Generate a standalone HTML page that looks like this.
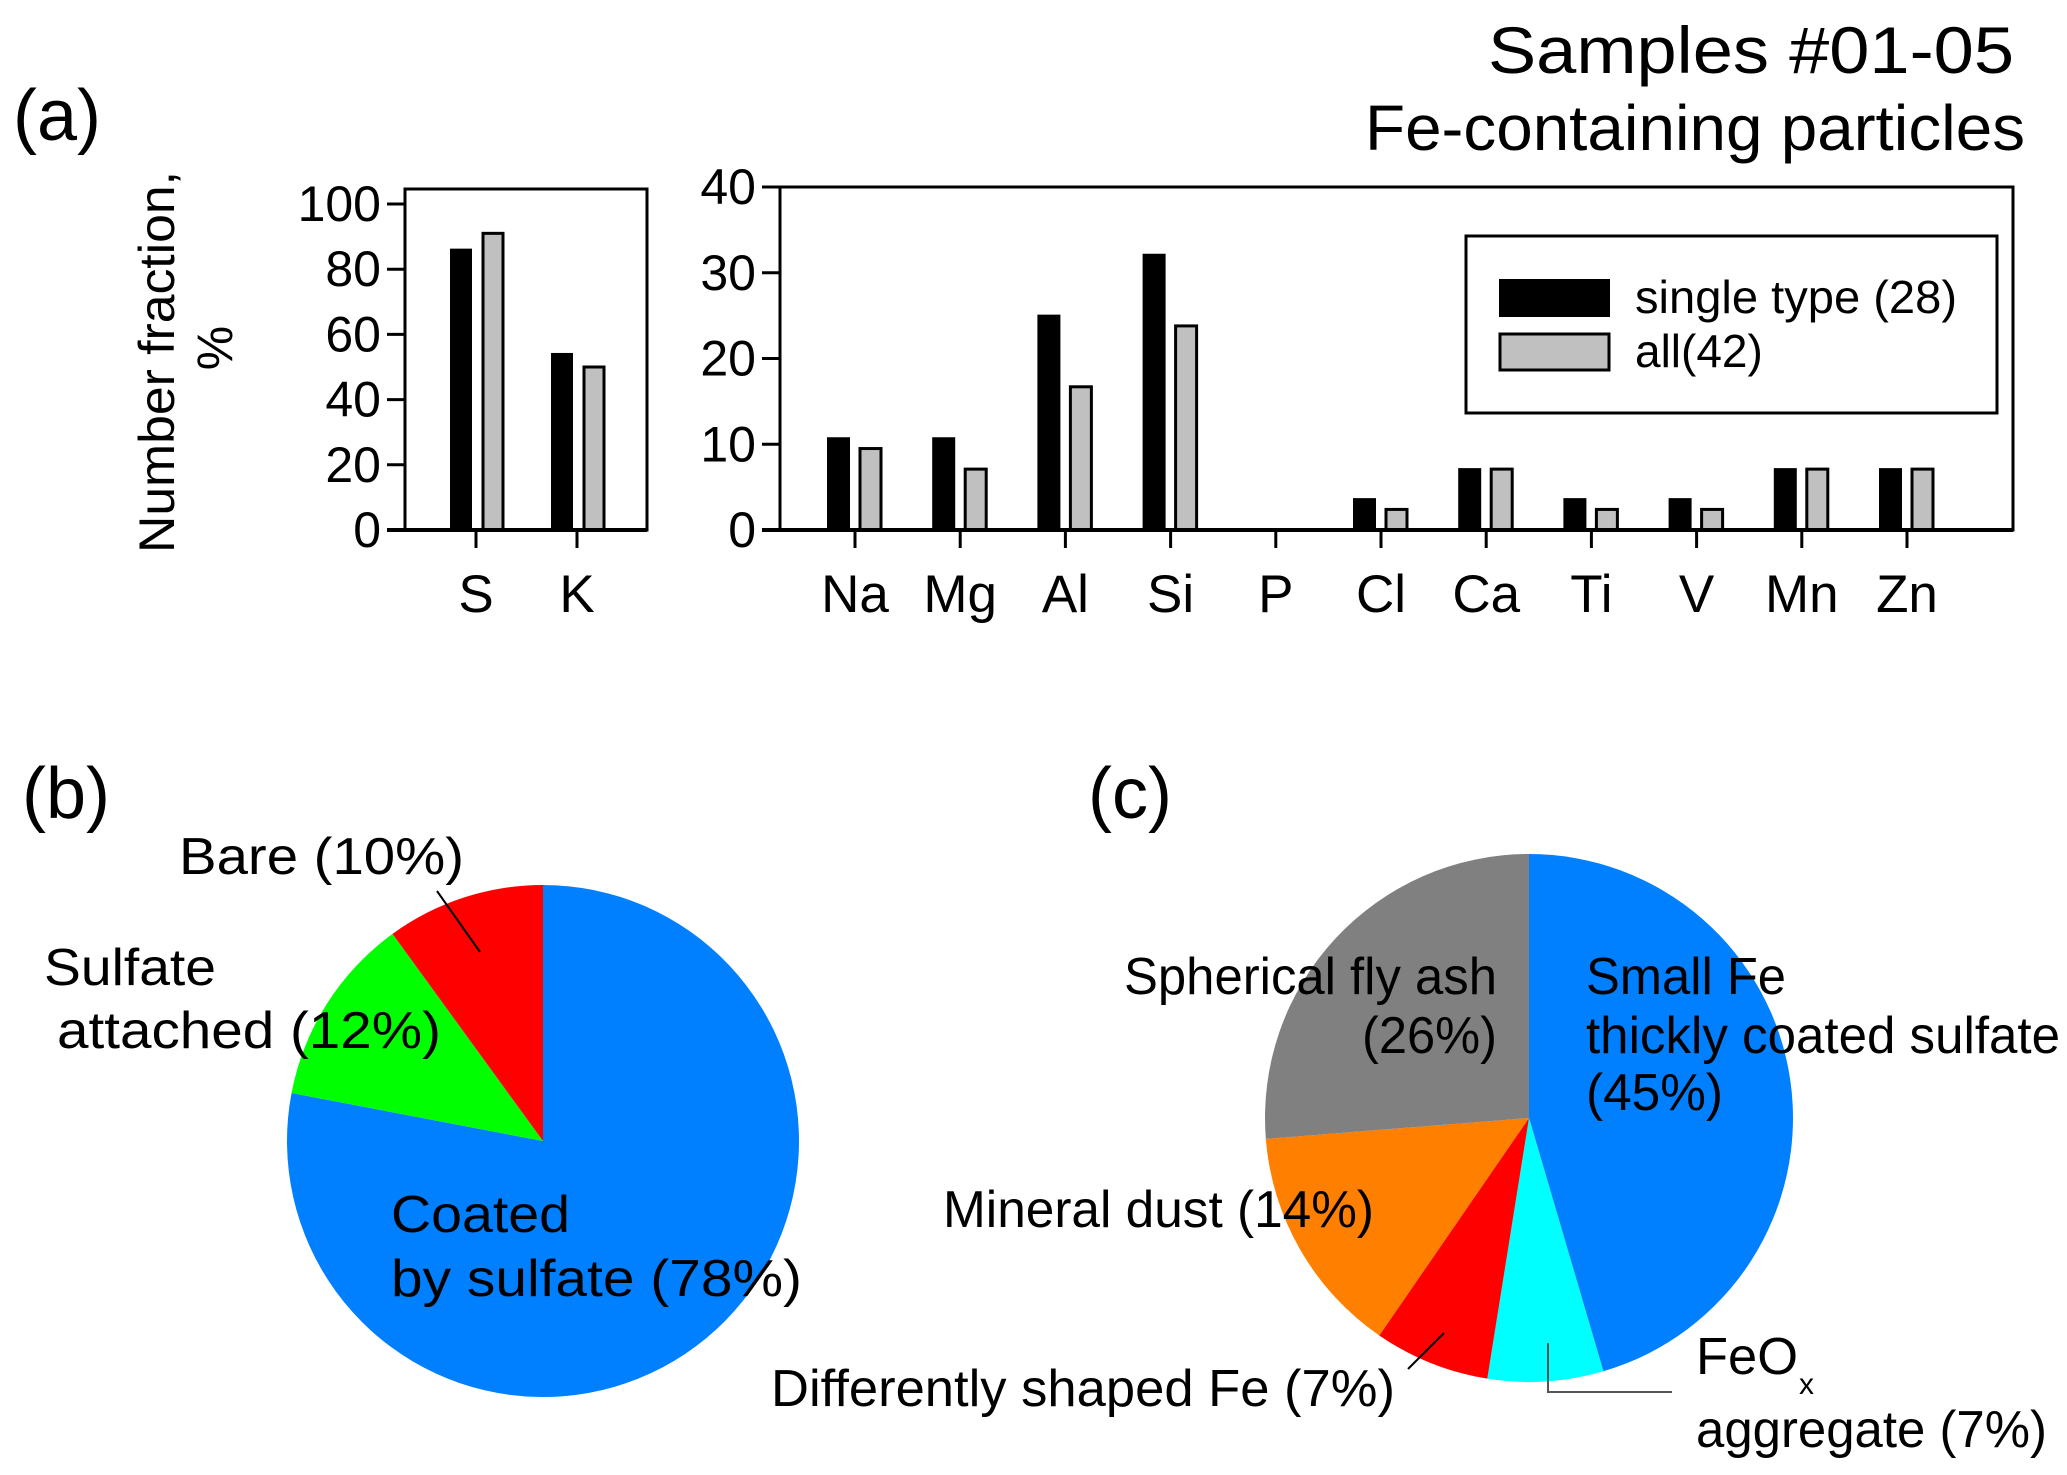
<!DOCTYPE html>
<html><head><meta charset="utf-8"><style>
html,body{margin:0;padding:0;background:#fff;}
svg{display:block;font-family:"Liberation Sans",Arial,sans-serif;}
</style></head><body>
<svg id="fig" xmlns="http://www.w3.org/2000/svg" width="2067" height="1475" viewBox="0 0 2067 1475">
<text x="13" y="140" font-size="72">(a)</text>
<text x="2014" y="73" font-size="66" text-anchor="end" textLength="526" lengthAdjust="spacingAndGlyphs">Samples #01-05</text>
<text x="2025" y="150" font-size="64" text-anchor="end" textLength="660" lengthAdjust="spacingAndGlyphs">Fe-containing particles</text>
<text transform="translate(174,362) rotate(-90)" font-size="50" text-anchor="middle" textLength="382" lengthAdjust="spacingAndGlyphs">Number fraction,</text>
<text transform="translate(232,348) rotate(-90)" font-size="50" text-anchor="middle">%</text>
<g id="left"></g><g id="right"></g>
<g>
<rect x="1466" y="236" width="531" height="177" fill="#fff" stroke="#000" stroke-width="3"/>
<rect x="1500" y="280" width="109" height="36" fill="#000" stroke="#000" stroke-width="2"/>
<text x="1635" y="313" font-size="46" textLength="322" lengthAdjust="spacingAndGlyphs">single type (28)</text>
<rect x="1500" y="334" width="109" height="36" fill="#c0c0c0" stroke="#000" stroke-width="3"/>
<text x="1635" y="367" font-size="46">all(42)</text>
</g>
<text x="22" y="818" font-size="72">(b)</text>
<text x="1088" y="818" font-size="72">(c)</text>
<g id="pieb"></g><g id="piec"></g>
<g font-size="52">
<text x="179" y="874" textLength="285" lengthAdjust="spacingAndGlyphs">Bare (10%)</text>
<line x1="437" y1="891" x2="480" y2="952" stroke="#000" stroke-width="2"/>
<text x="44" y="985" textLength="172" lengthAdjust="spacingAndGlyphs">Sulfate</text>
<text x="57" y="1048" textLength="384" lengthAdjust="spacingAndGlyphs">attached (12%)</text>
<text x="391" y="1232" textLength="179" lengthAdjust="spacingAndGlyphs">Coated</text>
<text x="391" y="1296" textLength="411" lengthAdjust="spacingAndGlyphs">by sulfate (78%)</text>
<text x="1497" y="994" text-anchor="end" textLength="373" lengthAdjust="spacingAndGlyphs">Spherical fly ash</text>
<text x="1497" y="1053" text-anchor="end" textLength="135" lengthAdjust="spacingAndGlyphs">(26%)</text>
<text x="1586" y="994" textLength="200" lengthAdjust="spacingAndGlyphs">Small Fe</text>
<text x="1586" y="1053" textLength="474" lengthAdjust="spacingAndGlyphs">thickly coated sulfate</text>
<text x="1586" y="1110" textLength="137" lengthAdjust="spacingAndGlyphs">(45%)</text>
<text x="943" y="1227" textLength="431" lengthAdjust="spacingAndGlyphs">Mineral dust (14%)</text>
<text x="771" y="1406" textLength="624" lengthAdjust="spacingAndGlyphs">Differently shaped Fe (7%)</text>
<line x1="1408" y1="1369" x2="1444" y2="1333" stroke="#000" stroke-width="2"/>
<text x="1696" y="1374" textLength="102" lengthAdjust="spacingAndGlyphs">FeO</text>
<text x="1799" y="1394" font-size="30">x</text>
<text x="1696" y="1447" textLength="351" lengthAdjust="spacingAndGlyphs">aggregate (7%)</text>
<polyline points="1548,1343 1548,1392 1672,1392" fill="none" stroke="#555" stroke-width="2"/>
</g>
</svg>
<script>
// Left bar chart data
const leftCats = ["S", "K"];
const leftSingle = [86, 54];
const leftAll = [91, 50];
const leftTicks = [0, 20, 40, 60, 80, 100];
// Right bar chart data
const rightCats = ["Na","Mg","Al","Si","P","Cl","Ca","Ti","V","Mn","Zn"];
const rightSingle = [10.7, 10.7, 25, 32.1, 0, 3.6, 7.1, 3.6, 3.6, 7.1, 7.1];
const rightAll = [9.5, 7.1, 16.7, 23.8, 0, 2.4, 7.1, 2.4, 2.4, 7.1, 7.1];
const rightTicks = [0, 10, 20, 30, 40];
// Pie (b)
const pieBLabels = ["Coated by sulfate", "Sulfate attached", "Bare"];
const pieBValues = [78, 12, 10];
const pieBColors = ["#0080ff", "#00ff00", "#ff0000"];
// Pie (c)
const pieCLabels = ["Small Fe thickly coated sulfate", "FeOx aggregate", "Differently shaped Fe", "Mineral dust", "Spherical fly ash"];
const pieCValues = [45, 7, 7, 14, 26];
const pieCColors = ["#0080ff", "#00ffff", "#ff0000", "#ff8000", "#808080"];

const NS = "http://www.w3.org/2000/svg";
function mk(parent, tag, attrs, txt) {
  const e = document.createElementNS(NS, tag);
  for (const k in attrs) e.setAttribute(k, attrs[k]);
  if (txt !== undefined) e.textContent = txt;
  parent.appendChild(e);
  return e;
}

function barChart(g, cfg) {
  const {x0, x1, y0, y1, max, cats, s1, s2, ticks, catX, bw, off1, off2, prefix} = cfg;
  const y = v => y0 - (v / max) * (y0 - y1);
  const fr = mk(g, "rect", {x: x0, y: y1, width: x1 - x0, height: y0 - y1, fill: "none", stroke: "#000", "stroke-width": 3});
  
  
  ticks.forEach(t => {
    const ln = mk(g, "line", {x1: x0 - 18, x2: x0, y1: y(t), y2: y(t), stroke: "#000", "stroke-width": 3});
    
    
    const tx = mk(g, "text", {x: x0 - 24, y: y(t) + 17, "font-size": 50, "text-anchor": "end"}, String(t));
    
    
  });
  cats.forEach((c, i) => {
    const cx = catX(i);
    const b1 = mk(g, "rect", {x: cx + off1, y: y(s1[i]), width: bw, height: y0 - y(s1[i]), fill: "#000", stroke: "#000", "stroke-width": 2});
    
    
    const b2 = mk(g, "rect", {x: cx + off2, y: y(s2[i]), width: bw, height: y0 - y(s2[i]), fill: "#c0c0c0", stroke: "#000", "stroke-width": 3});
    
    
    const tk = mk(g, "line", {x1: cx, x2: cx, y1: y0, y2: y0 + 18, stroke: "#000", "stroke-width": 3});
    
    
    const lb = mk(g, "text", {x: cx, y: 612, "font-size": 53, "text-anchor": "middle"}, c);
    
    
  });
  const ax = mk(g, "line", {x1: x0 - 18, x2: x1, y1: y0, y2: y0, stroke: "#000", "stroke-width": 4});
  
  
}

barChart(document.getElementById("left"), {
  x0: 405, x1: 647, y0: 530, y1: 189, max: 100 * (530 - 189) / (530 - 204),
  cats: leftCats, s1: leftSingle, s2: leftAll, ticks: leftTicks,
  catX: i => 476 + i * 101, bw: 20, off1: -25, off2: 7, prefix: "left"
});
barChart(document.getElementById("right"), {
  x0: 780, x1: 2013, y0: 530, y1: 187, max: 40,
  cats: rightCats, s1: rightSingle, s2: rightAll, ticks: rightTicks,
  catX: i => 855 + i * 105.2, bw: 21, off1: -27, off2: 5, prefix: "right"
});

function pie(g, cx, cy, r, vals, cols, labels, prefix) {
  const tot = vals.reduce((a, b) => a + b, 0);
  let a = 0;
  vals.forEach((v, i) => {
    const a0 = a, a1 = a + v / tot * 2 * Math.PI;
    a = a1;
    const p0 = [cx + r * Math.sin(a0), cy - r * Math.cos(a0)];
    const p1 = [cx + r * Math.sin(a1), cy - r * Math.cos(a1)];
    const large = (a1 - a0) > Math.PI ? 1 : 0;
    const p = mk(g, "path", {d: `M${cx},${cy} L${p0[0]},${p0[1]} A${r},${r} 0 ${large} 1 ${p1[0]},${p1[1]} Z`, fill: cols[i]});
    
    
  });
}
pie(document.getElementById("pieb"), 543, 1141, 256, pieBValues, pieBColors, pieBLabels, "pie-b");
pie(document.getElementById("piec"), 1529, 1118, 264, pieCValues, pieCColors, pieCLabels, "pie-c");
</script>
</body></html>
